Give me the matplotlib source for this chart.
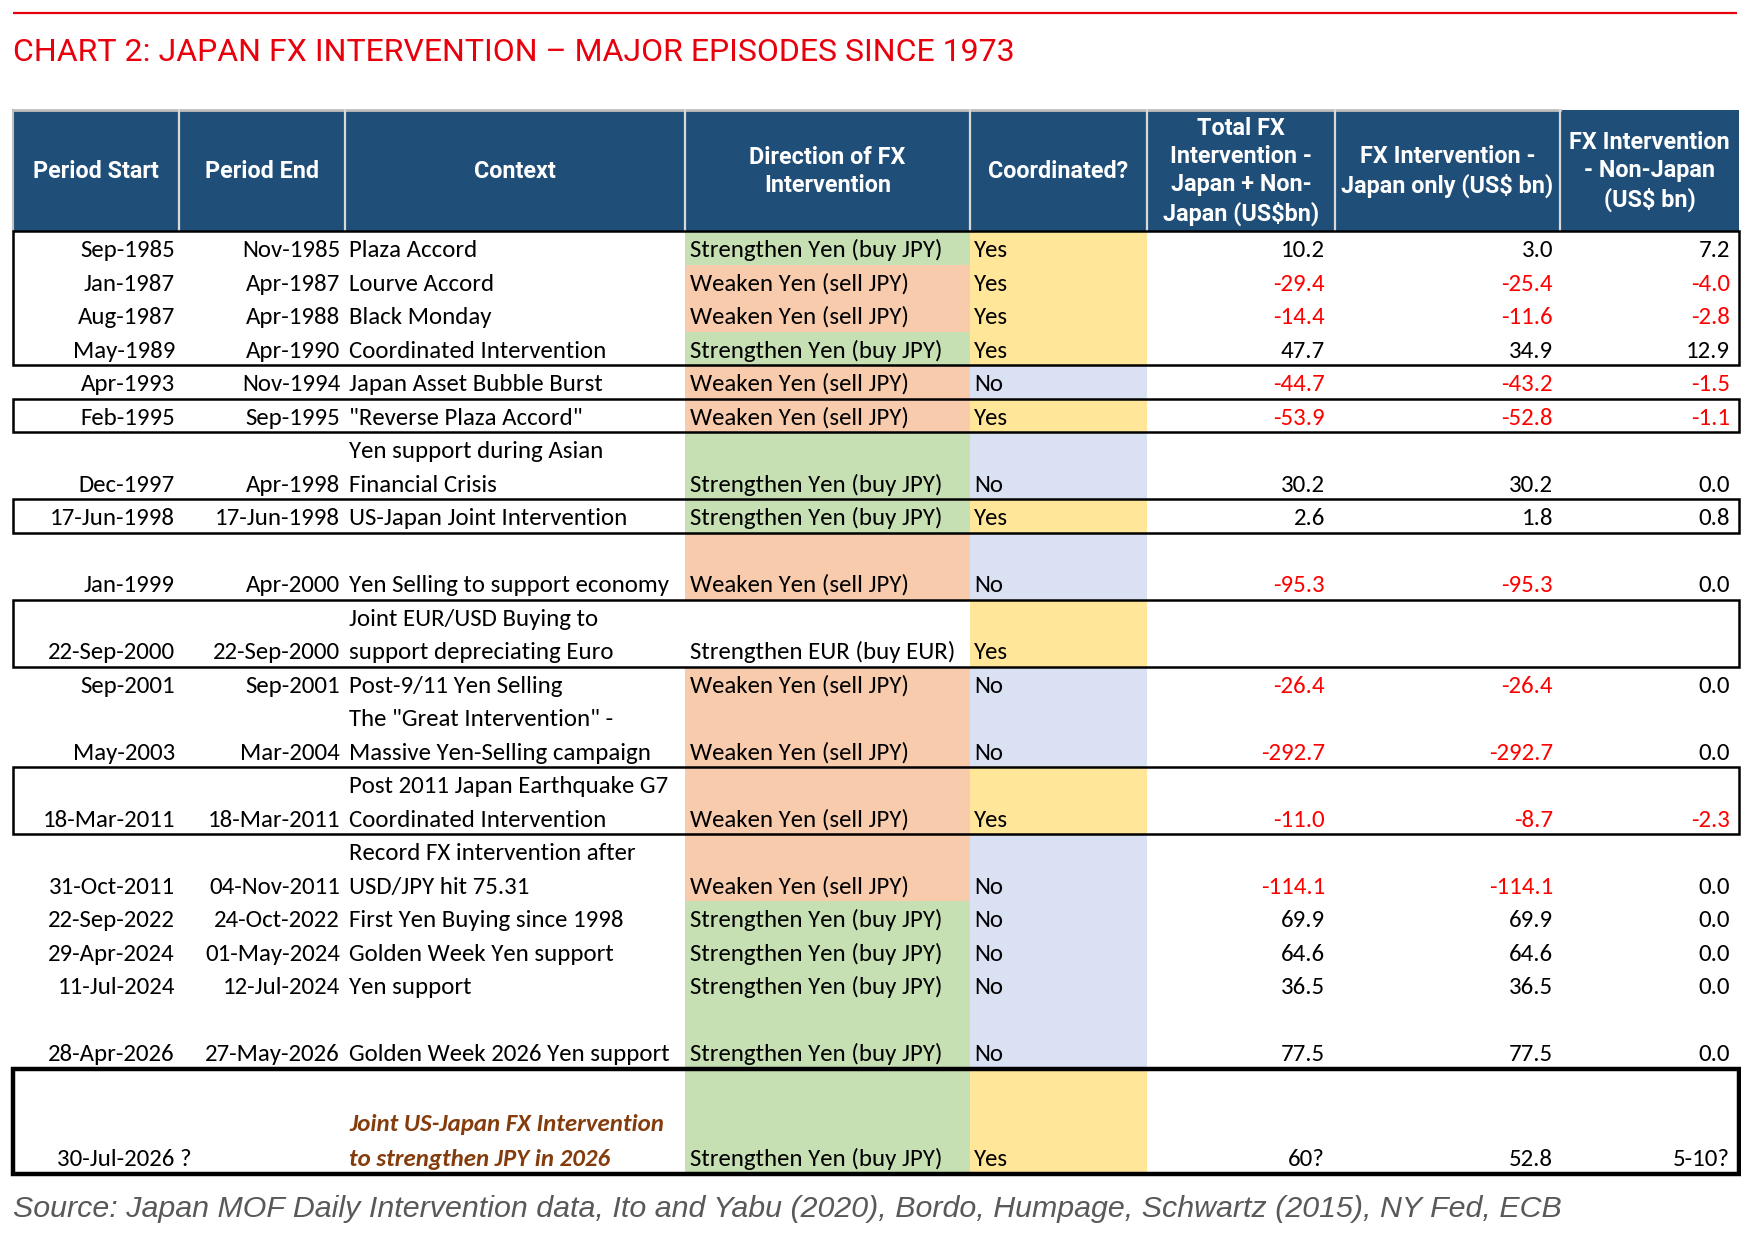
import matplotlib
matplotlib.use('Agg')
import matplotlib.pyplot as plt
from matplotlib.patches import Rectangle
from matplotlib import font_manager as fm

# ---------------- data ----------------
period_start = ["Sep-1985", "Jan-1987", "Aug-1987", "May-1989", "Apr-1993", "Feb-1995",
                "Dec-1997", "17-Jun-1998", "Jan-1999", "22-Sep-2000", "Sep-2001", "May-2003",
                "18-Mar-2011", "31-Oct-2011", "22-Sep-2022", "29-Apr-2024", "11-Jul-2024",
                "28-Apr-2026", "30-Jul-2026 ?"]
period_end = ["Nov-1985", "Apr-1987", "Apr-1988", "Apr-1990", "Nov-1994", "Sep-1995",
              "Apr-1998", "17-Jun-1998", "Apr-2000", "22-Sep-2000", "Sep-2001", "Mar-2004",
              "18-Mar-2011", "04-Nov-2011", "24-Oct-2022", "01-May-2024", "12-Jul-2024",
              "27-May-2026", ""]
context = [["Plaza Accord"], ["Lourve Accord"], ["Black Monday"], ["Coordinated Intervention"],
           ["Japan Asset Bubble Burst"], ['"Reverse Plaza Accord"'],
           ["Yen support during Asian", "Financial Crisis"], ["US-Japan Joint Intervention"],
           ["Yen Selling to support economy"],
           ["Joint EUR/USD Buying to", "support depreciating Euro"],
           ["Post-9/11 Yen Selling"],
           ['The "Great Intervention" -', "Massive Yen-Selling campaign"],
           ["Post 2011 Japan Earthquake G7", "Coordinated Intervention"],
           ["Record FX intervention after", "USD/JPY hit 75.31"],
           ["First Yen Buying since 1998"], ["Golden Week Yen support"], ["Yen support"],
           ["Golden Week 2026 Yen support"],
           ["Joint US-Japan FX Intervention", "to strengthen JPY in 2026"]]
direction = ["Strengthen Yen (buy JPY)", "Weaken Yen (sell JPY)", "Weaken Yen (sell JPY)",
             "Strengthen Yen (buy JPY)", "Weaken Yen (sell JPY)", "Weaken Yen (sell JPY)",
             "Strengthen Yen (buy JPY)", "Strengthen Yen (buy JPY)", "Weaken Yen (sell JPY)",
             "Strengthen EUR (buy EUR)", "Weaken Yen (sell JPY)", "Weaken Yen (sell JPY)",
             "Weaken Yen (sell JPY)", "Weaken Yen (sell JPY)", "Strengthen Yen (buy JPY)",
             "Strengthen Yen (buy JPY)", "Strengthen Yen (buy JPY)", "Strengthen Yen (buy JPY)",
             "Strengthen Yen (buy JPY)"]
coordinated = ["Yes", "Yes", "Yes", "Yes", "No", "Yes", "No", "Yes", "No", "Yes", "No", "No",
               "Yes", "No", "No", "No", "No", "No", "Yes"]
total_fx = [10.2, -29.4, -14.4, 47.7, -44.7, -53.9, 30.2, 2.6, -95.3, None, -26.4, -292.7,
            -11.0, -114.1, 69.9, 64.6, 36.5, 77.5, "60?"]
japan_only = [3.0, -25.4, -11.6, 34.9, -43.2, -52.8, 30.2, 1.8, -95.3, None, -26.4, -292.7,
              -8.7, -114.1, 69.9, 64.6, 36.5, 77.5, "52.8"]
non_japan = [7.2, -4.0, -2.8, 12.9, -1.5, -1.1, 0.0, 0.8, 0.0, None, 0.0, 0.0,
             -2.3, 0.0, 0.0, 0.0, 0.0, 0.0, "5-10?"]
n_lines = [1, 1, 1, 1, 1, 1, 2, 1, 2, 2, 1, 2, 2, 2, 1, 1, 1, 2, 3]
boxed = [(0, 3), (5, 5), (7, 7), (9, 9), (12, 12), (18, 18)]

headers = ["Period Start", "Period End", "Context", "Direction of FX\nIntervention",
           "Coordinated?", "Total FX\nIntervention -\nJapan + Non-\nJapan (US$bn)",
           "FX Intervention -\nJapan only (US$ bn)", "FX Intervention\n- Non-Japan\n(US$ bn)"]

title = "CHART 2: JAPAN FX INTERVENTION \u2013 MAJOR EPISODES SINCE 1973"
source = ("Source: Japan MOF Daily Intervention data, Ito and Yabu (2020), "
          "Bordo, Humpage, Schwartz (2015), NY Fed, ECB")

# ---------------- styling ----------------
def pick(*names):
    avail = {f.name for f in fm.fontManager.ttflist}
    for n in names:
        if n in avail:
            return n
    return 'DejaVu Sans'

BODY = pick('Carlito', 'Lato', 'Open Sans')
HEAD = pick('Liberation Sans Narrow', 'Roboto', 'Liberation Sans')
SRC = pick('Liberation Sans', 'Arial')
narrow = HEAD == 'Liberation Sans Narrow'

body_size = 17.9 if BODY == 'Carlito' else 15.6
head_size = 15.0 if narrow else 16.8
title_size = 23.0
src_size = 21.9

GREEN = '#C6E0B4'
ORANGE = '#F8CBAD'
YELLOW = '#FFE699'
LAVENDER = '#D9E1F2'
HEADER = '#1F4E78'
RED = '#FF0000'
BROWN = '#843C0C'
TITLE_RED = '#E8000D'

W, H = 1741, 1243
fig = plt.figure(figsize=(W / 100, H / 100), dpi=100)
ax = fig.add_axes([0, 0, 1, 1])
ax.set_xlim(0, W)
ax.set_ylim(H, 0)
ax.axis('off')

cols = [13, 179, 345, 685, 970, 1147, 1335, 1560, 1739]
head_top, head_bot = 110, 231
row_h, last_row_h = 33.5, 35.0

# top red rule and title
ax.plot([13, 1737], [13, 13], color=TITLE_RED, lw=1.6, solid_capstyle='butt')
ax.text(13, 52, title, color=TITLE_RED, fontsize=title_size, family=HEAD,
        ha='left', va='center')

# header
ax.add_patch(Rectangle((cols[0], head_top), cols[-1] - cols[0], head_bot - head_top,
                       facecolor=HEADER, edgecolor='none'))
ax.plot([cols[0], cols[7]], [head_top, head_top], color='#BFBFBF', lw=2)
ax.plot([cols[0], cols[0]], [head_top, head_bot], color='#BFBFBF', lw=1.5)
for x in cols[1:-1]:
    ax.plot([x, x], [head_top, head_bot], color='#D9D9D9', lw=1.6)
for i, h in enumerate(headers):
    ax.text((cols[i] + cols[i + 1]) / 2, (head_top + head_bot) / 2 + 1, h, color='white',
            fontsize=head_size, family=HEAD, fontweight='bold', ha='center', va='center',
            linespacing=1.27)

# body
def fmt(v):
    if v is None:
        return "", 'black'
    if isinstance(v, str):
        return v, 'black'
    return f"{v:.1f}", (RED if v < 0 else 'black')

fill_dir = {"Strengthen Yen (buy JPY)": GREEN, "Weaken Yen (sell JPY)": ORANGE}
fill_coord = {"Yes": YELLOW, "No": LAVENDER}

tops = []
y = head_bot
n = len(period_start)
for i in range(n):
    rh = last_row_h if i == n - 1 else row_h
    tops.append((y, rh))
    top = y
    height = rh * n_lines[i]
    ax.add_patch(Rectangle((cols[3], top), cols[4] - cols[3], height,
                           facecolor=fill_dir.get(direction[i], 'white'), edgecolor='none'))
    ax.add_patch(Rectangle((cols[4], top), cols[5] - cols[4], height,
                           facecolor=fill_coord[coordinated[i]], edgecolor='none'))
    base = top + rh * (n_lines[i] - 1) + 26 * rh / row_h
    kw = dict(fontsize=body_size, family=BODY, va='baseline')
    ax.text(cols[1] - 4 + (17 if i == n - 1 else 0), base, period_start[i], ha='right', **kw)
    ax.text(cols[2] - 5, base, period_end[i], ha='right', **kw)
    lines = context[i]
    for k, line in enumerate(lines):
        yy = base - rh * (len(lines) - 1 - k)
        if i == n - 1:
            ax.text(cols[2] + 4, yy, line, ha='left', color=BROWN, fontweight='bold',
                    style='italic', **kw)
        else:
            ax.text(cols[2] + 4, yy, line, ha='left', **kw)
    ax.text(cols[3] + 5, base, direction[i], ha='left', **kw)
    ax.text(cols[4] + 4, base, coordinated[i], ha='left', **kw)
    for v, xr in ((total_fx[i], cols[6] - 10), (japan_only[i], cols[7] - 7),
                  (non_japan[i], cols[8] - 9)):
        s, c = fmt(v)
        ax.text(xr, base, s, ha='right', color=c, **kw)
    y += height

# group boxes
for a, b in boxed:
    top = tops[a][0]
    bot = tops[b][0] + tops[b][1] * n_lines[b]
    thick = (b == n - 1)
    ax.add_patch(Rectangle((cols[0], top), cols[-1] - cols[0], bot - top, facecolor='none',
                           edgecolor='black', lw=3.2 if thick else 1.8, zorder=5))

# source
ax.text(13, 1209, source, color='#595959', fontsize=src_size, family=SRC, style='italic',
        ha='left', va='center')

fig.savefig('out.png', dpi=100)
